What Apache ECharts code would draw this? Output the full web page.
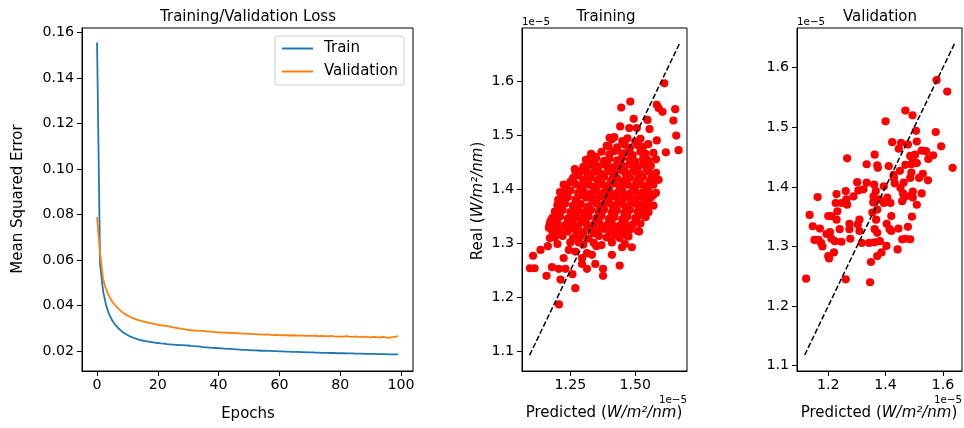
<!DOCTYPE html>
<html><head><meta charset="utf-8">
<script src="https://cdn.jsdelivr.net/npm/echarts@6/dist/echarts.min.js"></script>
<style>html,body{margin:0;padding:0;background:#fff}#c{width:964px;height:428px}</style>
</head><body><div id="c"></div><script>
const FONT = 'DejaVu Sans';

// ---- Loss curves (epoch = index) ----
const trainLoss = [
 0.1555,0.0580,0.0462,0.0400,0.0360,0.0334,0.0315,0.0300,0.0288,0.0278,
 0.0270,0.0263,0.0258,0.0253,0.0249,0.0246,0.0243,0.0241,0.0239,0.0237,
 0.0235,0.0233,0.0232,0.0230,0.0229,0.0228,0.0227,0.0226,0.0226,0.0225,
 0.0224,0.0222,0.0221,0.0220,0.0219,0.0217,0.0216,0.0215,0.0214,0.0213,
 0.0212,0.0211,0.0210,0.0209,0.0209,0.0208,0.0207,0.0206,0.0205,0.0205,
 0.0204,0.0203,0.0203,0.0202,0.0201,0.0201,0.0200,0.0200,0.0199,0.0199,
 0.0198,0.0198,0.0197,0.0197,0.0196,0.0196,0.0196,0.0195,0.0195,0.0194,
 0.0194,0.0194,0.0193,0.0193,0.0192,0.0192,0.0192,0.0191,0.0191,0.0190,
 0.0190,0.0190,0.0189,0.0189,0.0189,0.0188,0.0188,0.0188,0.0187,0.0187,
 0.0187,0.0187,0.0186,0.0186,0.0186,0.0186,0.0185,0.0185,0.0185,0.0185];
const valLoss = [
 0.0788,0.0627,0.0515,0.0470,0.0440,0.0417,0.0400,0.0386,0.0374,0.0364,
 0.0356,0.0349,0.0343,0.0338,0.0334,0.0330,0.0327,0.0324,0.0321,0.0318,
 0.0316,0.0313,0.0311,0.0309,0.0307,0.0304,0.0302,0.0299,0.0297,0.0295,
 0.0293,0.0291,0.0290,0.0289,0.0288,0.0288,0.0286,0.0285,0.0284,0.0283,
 0.0282,0.0281,0.0281,0.0280,0.0279,0.0278,0.0278,0.0277,0.0276,0.0276,
 0.0275,0.0274,0.0274,0.0273,0.0273,0.0272,0.0273,0.0271,0.0270,0.0271,
 0.0270,0.0269,0.0270,0.0268,0.0269,0.0268,0.0267,0.0268,0.0267,0.0266,
 0.0267,0.0266,0.0267,0.0265,0.0266,0.0265,0.0264,0.0266,0.0264,0.0263,
 0.0264,0.0263,0.0265,0.0263,0.0262,0.0264,0.0262,0.0261,0.0263,0.0262,
 0.0260,0.0262,0.0261,0.0259,0.0262,0.0260,0.0258,0.0261,0.0262,0.0265];
const lossXTicks = [0,20,40,60,80,100];
const lossYTicks = [0.02,0.04,0.06,0.08,0.10,0.12,0.14,0.16];

// ---- Training scatter: [predicted, real] in units of 1e-5 W/m^2/nm ----
const trainPoints = [
 [1.612,1.597],[1.481,1.563],[1.446,1.552],[1.583,1.557],[1.590,1.551],[1.654,1.549],[1.605,1.544],
 [1.647,1.528],[1.494,1.531],[1.547,1.529],[1.442,1.517],[1.477,1.514],[1.506,1.514],[1.555,1.512],
 [1.658,1.500],[1.583,1.491],[1.618,1.469],[1.667,1.473],[1.590,1.418],[1.567,1.390],[1.522,1.361],
 [1.551,1.358],[1.515,1.322],[1.487,1.293],[1.440,1.259],[1.376,1.253],[1.376,1.240],[1.346,1.262],
 [1.314,1.253],[1.295,1.262],[1.269,1.217],[1.258,1.243],[1.231,1.253],[1.205,1.253],[1.212,1.233],
 [1.206,1.187],[1.158,1.240],[1.179,1.256],[1.094,1.254],[1.112,1.254],[1.106,1.277],[1.135,1.288],
 [1.163,1.295],[1.171,1.310],[1.167,1.329],[1.173,1.341],[1.203,1.381],[1.224,1.409],[1.267,1.438],
 [1.317,1.456],[1.346,1.461],[1.401,1.496],[1.397,1.480],[1.419,1.497],[1.224,1.273],[1.244,1.288],
 [1.269,1.285],[1.282,1.302],[1.295,1.273],[1.314,1.282],[1.333,1.279],[1.350,1.295],[1.410,1.279],
 [1.449,1.293],[1.474,1.313],
 [1.41,1.493],[1.45,1.490],[1.47,1.495],[1.50,1.489],[1.52,1.494],
 [1.39,1.481],[1.43,1.478],[1.46,1.483],[1.48,1.477],[1.51,1.482],[1.53,1.479],[1.55,1.484],
 [1.33,1.466],[1.37,1.470],[1.40,1.465],[1.42,1.471],[1.45,1.467],[1.47,1.469],[1.49,1.464],[1.52,1.470],[1.54,1.466],[1.57,1.468],
 [1.31,1.455],[1.35,1.458],[1.38,1.453],[1.40,1.457],[1.43,1.454],[1.45,1.459],[1.48,1.455],[1.50,1.452],[1.53,1.457],[1.55,1.454],[1.58,1.456],
 [1.30,1.442],[1.33,1.446],[1.36,1.443],[1.38,1.447],[1.41,1.441],[1.43,1.445],[1.46,1.443],[1.48,1.447],[1.51,1.442],[1.53,1.446],[1.56,1.444],
 [1.27,1.431],[1.29,1.434],[1.32,1.430],[1.35,1.433],[1.37,1.429],[1.40,1.434],[1.42,1.431],[1.45,1.435],[1.47,1.430],[1.50,1.433],[1.52,1.429],[1.55,1.434],[1.58,1.431],
 [1.26,1.421],[1.30,1.418],[1.33,1.422],[1.36,1.419],[1.38,1.423],[1.41,1.418],[1.43,1.421],[1.46,1.417],[1.48,1.422],[1.51,1.419],[1.53,1.423],[1.56,1.418],
 [1.23,1.407],[1.27,1.410],[1.29,1.406],[1.32,1.409],[1.34,1.405],[1.37,1.410],[1.39,1.407],[1.42,1.411],[1.44,1.406],[1.47,1.409],[1.49,1.405],[1.52,1.410],[1.54,1.407],[1.57,1.409],
 [1.21,1.395],[1.25,1.398],[1.28,1.394],[1.30,1.397],[1.33,1.393],[1.35,1.398],[1.38,1.395],[1.40,1.399],[1.43,1.394],[1.45,1.397],[1.48,1.393],[1.50,1.398],[1.53,1.395],[1.55,1.397],[1.58,1.394],
 [1.22,1.383],[1.24,1.386],[1.27,1.382],[1.31,1.385],[1.34,1.381],[1.36,1.386],[1.39,1.383],[1.41,1.387],[1.44,1.382],[1.46,1.385],[1.49,1.381],[1.51,1.386],[1.54,1.383],[1.56,1.385],
 [1.20,1.371],[1.23,1.374],[1.26,1.370],[1.29,1.373],[1.32,1.369],[1.35,1.374],[1.37,1.371],[1.40,1.375],[1.42,1.370],[1.45,1.373],[1.47,1.369],[1.50,1.374],[1.52,1.371],[1.55,1.373],[1.57,1.370],
 [1.19,1.359],[1.22,1.362],[1.25,1.358],[1.28,1.361],[1.30,1.357],[1.33,1.362],[1.36,1.359],[1.38,1.363],[1.41,1.358],[1.43,1.361],[1.46,1.357],[1.48,1.362],[1.51,1.359],[1.53,1.361],
 [1.18,1.347],[1.21,1.350],[1.24,1.346],[1.27,1.349],[1.29,1.345],[1.32,1.350],[1.35,1.347],[1.37,1.351],[1.40,1.346],[1.42,1.349],[1.45,1.345],[1.47,1.350],[1.50,1.347],[1.54,1.349],
 [1.17,1.335],[1.20,1.338],[1.23,1.334],[1.26,1.337],[1.28,1.333],[1.31,1.338],[1.34,1.335],[1.36,1.339],[1.39,1.334],[1.41,1.337],[1.44,1.333],[1.46,1.338],[1.49,1.335],[1.52,1.337],
 [1.18,1.323],[1.21,1.326],[1.24,1.322],[1.27,1.325],[1.30,1.321],[1.33,1.326],[1.35,1.323],[1.38,1.327],[1.40,1.322],[1.43,1.325],[1.45,1.321],[1.48,1.326],[1.51,1.323],
 [1.19,1.311],[1.22,1.314],[1.26,1.310],[1.29,1.313],[1.32,1.309],[1.36,1.314],[1.39,1.311],[1.42,1.315],[1.44,1.310],[1.47,1.313],
 [1.20,1.299],[1.25,1.302],[1.30,1.298],[1.34,1.301],[1.37,1.297],[1.41,1.302],[1.46,1.299],
 [1.34,1.450],[1.39,1.451],[1.44,1.449],[1.49,1.450],[1.54,1.451],
 [1.31,1.438],[1.345,1.437],[1.395,1.439],[1.445,1.437],[1.495,1.438],[1.545,1.439],
 [1.28,1.426],[1.315,1.425],[1.365,1.427],[1.415,1.425],[1.465,1.427],[1.515,1.426],[1.565,1.425],
 [1.25,1.414],[1.305,1.413],[1.355,1.415],[1.405,1.413],[1.455,1.415],[1.505,1.414],[1.555,1.413],
 [1.235,1.402],[1.29,1.401],[1.345,1.403],[1.395,1.401],[1.445,1.403],[1.495,1.402],[1.545,1.401],
 [1.23,1.390],[1.285,1.389],[1.325,1.391],[1.375,1.389],[1.425,1.391],[1.475,1.390],[1.525,1.389],[1.57,1.390],
 [1.215,1.378],[1.275,1.377],[1.335,1.379],[1.385,1.377],[1.435,1.379],[1.485,1.378],[1.535,1.377],
 [1.205,1.366],[1.265,1.365],[1.315,1.367],[1.365,1.365],[1.415,1.367],[1.465,1.366],[1.515,1.365],[1.545,1.366],
 [1.195,1.354],[1.255,1.353],[1.31,1.355],[1.36,1.353],[1.41,1.355],[1.46,1.354],[1.52,1.353],
 [1.19,1.342],[1.245,1.341],[1.30,1.343],[1.35,1.341],[1.40,1.343],[1.455,1.342],[1.505,1.341],
 [1.195,1.330],[1.25,1.329],[1.315,1.331],[1.37,1.329],[1.42,1.331],[1.47,1.330],
 [1.205,1.318],[1.275,1.317],[1.34,1.319],[1.41,1.317],[1.46,1.318]];
const trainIdentity = [1.093, 1.670];
const trainXTicks = [1.25, 1.50];
const trainYTicks = [1.1, 1.2, 1.3, 1.4, 1.5, 1.6];

// ---- Validation scatter ----
const valPoints = [
 [1.578,1.579],[1.615,1.560],[1.634,1.432],[1.469,1.528],[1.494,1.520],[1.400,1.510],[1.575,1.492],
 [1.506,1.494],[1.594,1.468],[1.566,1.453],[1.526,1.461],[1.541,1.460],[1.509,1.476],[1.423,1.475],
 [1.454,1.474],[1.478,1.471],[1.446,1.464],[1.503,1.454],[1.486,1.452],[1.495,1.446],[1.509,1.440],
 [1.490,1.438],[1.469,1.437],[1.411,1.435],[1.371,1.436],[1.373,1.432],[1.362,1.454],[1.334,1.438],
 [1.266,1.448],[1.490,1.424],[1.530,1.422],[1.517,1.415],[1.486,1.415],[1.548,1.411],[1.429,1.415],
 [1.432,1.406],[1.463,1.407],[1.452,1.398],[1.461,1.389],[1.458,1.376],[1.495,1.392],[1.495,1.382],
 [1.526,1.389],[1.509,1.370],[1.486,1.385],[1.394,1.401],[1.406,1.382],[1.417,1.373],[1.394,1.373],
 [1.378,1.379],[1.360,1.404],[1.366,1.393],[1.358,1.384],[1.371,1.362],[1.357,1.374],[1.367,1.345],
 [1.362,1.329],[1.371,1.323],[1.354,1.357],[1.334,1.407],[1.323,1.396],[1.301,1.408],[1.305,1.394],
 [1.288,1.384],[1.261,1.393],[1.263,1.379],[1.266,1.370],[1.246,1.373],[1.229,1.388],[1.226,1.373],
 [1.232,1.359],[1.229,1.345],[1.200,1.351],[1.211,1.351],[1.163,1.383],[1.135,1.353],[1.146,1.334],
 [1.171,1.330],[1.152,1.311],[1.166,1.311],[1.175,1.306],[1.180,1.300],[1.194,1.321],[1.206,1.324],
 [1.211,1.313],[1.223,1.309],[1.200,1.284],[1.203,1.280],[1.220,1.290],[1.240,1.329],[1.246,1.308],
 [1.274,1.329],[1.274,1.338],[1.277,1.313],[1.309,1.345],[1.309,1.326],[1.317,1.306],[1.343,1.306],
 [1.349,1.274],[1.346,1.240],[1.371,1.284],[1.386,1.290],[1.403,1.301],[1.362,1.307],[1.380,1.309],
 [1.404,1.338],[1.414,1.329],[1.420,1.351],[1.420,1.326],[1.445,1.330],[1.442,1.295],[1.458,1.312],
 [1.469,1.313],[1.478,1.333],[1.486,1.312],[1.492,1.350],[1.466,1.383],[1.261,1.245],[1.123,1.246],
 [1.303,1.337],[1.549,1.447],[1.450,1.427],[1.428,1.420]];
const valIdentity = [1.118, 1.640];
const valXTicks = [1.2, 1.4, 1.6];
const valYTicks = [1.1, 1.2, 1.3, 1.4, 1.5, 1.6];

const chart = echarts.init(document.getElementById('c'), null, {renderer:'canvas'});
const tickFont = {fontFamily: FONT, fontSize: 14.2, color: '#000'};
function xAx(gi, min, max, ticks, fmt) {
  return {type:'value', gridIndex: gi, min, max, splitLine:{show:false},
    axisLine:{show:true, onZero:false, lineStyle:{color:'#000', width:1}},
    axisTick:{show:true, length:5, lineStyle:{color:'#000'}, customValues: ticks},
    axisLabel: Object.assign({margin:7, customValues: ticks, formatter: fmt, showMinLabel:true, showMaxLabel:true}, tickFont)};
}
function yAx(gi, min, max, ticks, fmt) {
  return {type:'value', gridIndex: gi, min, max, splitLine:{show:false},
    axisLine:{show:true, onZero:false, lineStyle:{color:'#000', width:1}},
    axisTick:{show:true, length:5, lineStyle:{color:'#000'}, customValues: ticks},
    axisLabel: Object.assign({margin:8, customValues: ticks, formatter: fmt, showMinLabel:true, showMaxLabel:true}, tickFont)};
}
const gridStyle = {show:true, borderColor:'#000', borderWidth:1, backgroundColor:'transparent'};
const rich = {
  n:{fontFamily:FONT, fontSize:15, color:'#000'},
  i:{fontFamily:FONT, fontSize:15, fontStyle:'italic', color:'#000'}
};
const unitText = '{i|W/m\u00B2/nm}{n|)}';
function txt(x, y, text, size, opts) {
  return Object.assign({type:'text', x, y, silent:true,
    style: Object.assign({text, fontFamily:FONT, fontSize:size, fill:'#000', align:'center', verticalAlign:'middle'}, (opts && opts.style) || {})},
    (opts && opts.el) || {});
}
const lineIcon = 'path://M0,0L31,0L31,2L0,2Z';

chart.setOption({
  animation:false,
  backgroundColor:'#fff',
  grid:[
    Object.assign({left:82, top:28, width:331, height:343}, gridStyle),
    Object.assign({left:522, top:28, width:165, height:343}, gridStyle),
    Object.assign({left:797, top:28, width:165, height:343}, gridStyle)
  ],
  xAxis:[
    xAx(0, -4.95, 103.95, lossXTicks, v => String(v)),
    xAx(1, 1.0635, 1.6995, trainXTicks, v => v.toFixed(2)),
    xAx(2, 1.0911, 1.6666, valXTicks, v => v.toFixed(1))
  ],
  yAxis:[
    yAx(0, 0.0112, 0.1619, lossYTicks, v => v.toFixed(2)),
    yAx(1, 1.0635, 1.6995, trainYTicks, v => v.toFixed(1)),
    yAx(2, 1.0911, 1.6666, valYTicks, v => v.toFixed(1))
  ],
  legend:{
    data:[{name:'Train', icon:lineIcon}, {name:'Validation', icon:lineIcon}],
    orient:'vertical', left:275, top:36,
    padding:[5,6,6,7], itemWidth:31, itemHeight:14, itemGap:8,
    borderColor:'#cccccc', borderWidth:1, borderRadius:3, backgroundColor:'rgba(255,255,255,0.8)',
    textStyle:{fontFamily:FONT, fontSize:15, color:'#000', padding:[0,0,0,6]},
    selectedMode:false
  },
  series:[
    {name:'Train', type:'line', xAxisIndex:0, yAxisIndex:0, symbol:'none',
     data: trainLoss.map((v,i)=>[i,v]), lineStyle:{color:'#1f77b4', width:1.8}, itemStyle:{color:'#1f77b4'}},
    {name:'Validation', type:'line', xAxisIndex:0, yAxisIndex:0, symbol:'none',
     data: valLoss.map((v,i)=>[i,v]), lineStyle:{color:'#ff7f0e', width:1.8}, itemStyle:{color:'#ff7f0e'}},
    {name:'trainScatter', type:'scatter', xAxisIndex:1, yAxisIndex:1, symbolSize:8.2,
     data: trainPoints, itemStyle:{color:'#ff0000', opacity:1}},
    {name:'trainLine', type:'line', xAxisIndex:1, yAxisIndex:1, symbol:'none', z:5,
     data: trainIdentity.map(v=>[v,v]), lineStyle:{color:'#000', width:1.5, type:[5.5,2.4]}},
    {name:'valScatter', type:'scatter', xAxisIndex:2, yAxisIndex:2, symbolSize:8.2,
     data: valPoints, itemStyle:{color:'#ff0000', opacity:1}},
    {name:'valLine', type:'line', xAxisIndex:2, yAxisIndex:2, symbol:'none', z:5,
     data: valIdentity.map(v=>[v,v]), lineStyle:{color:'#000', width:1.5, type:[5.5,2.4]}}
  ],
  graphic:[
    txt(248, 17, 'Training/Validation Loss', 15),
    txt(606, 17, 'Training', 15),
    txt(880, 17, 'Validation', 15),
    txt(248, 414, 'Epochs', 15),
    txt(18, 199, 'Mean Squared Error', 15, {el:{rotation:Math.PI/2}}),
    txt(478, 201, '', 15, {el:{rotation:Math.PI/2}, style:{text:'{n|Real (}' + unitText, rich}}),
    txt(604, 413, '', 15, {style:{text:'{n|Predicted (}' + unitText, rich}}),
    txt(879, 413, '', 15, {style:{text:'{n|Predicted (}' + unitText, rich}}),
    txt(522, 22, '1e\u22125', 10.3, {style:{align:'left'}}),
    txt(797, 22, '1e\u22125', 10.3, {style:{align:'left'}}),
    txt(687, 400, '1e\u22125', 10.3, {style:{align:'right'}}),
    txt(962, 400, '1e\u22125', 10.3, {style:{align:'right'}})
  ]
});
</script></body></html>
